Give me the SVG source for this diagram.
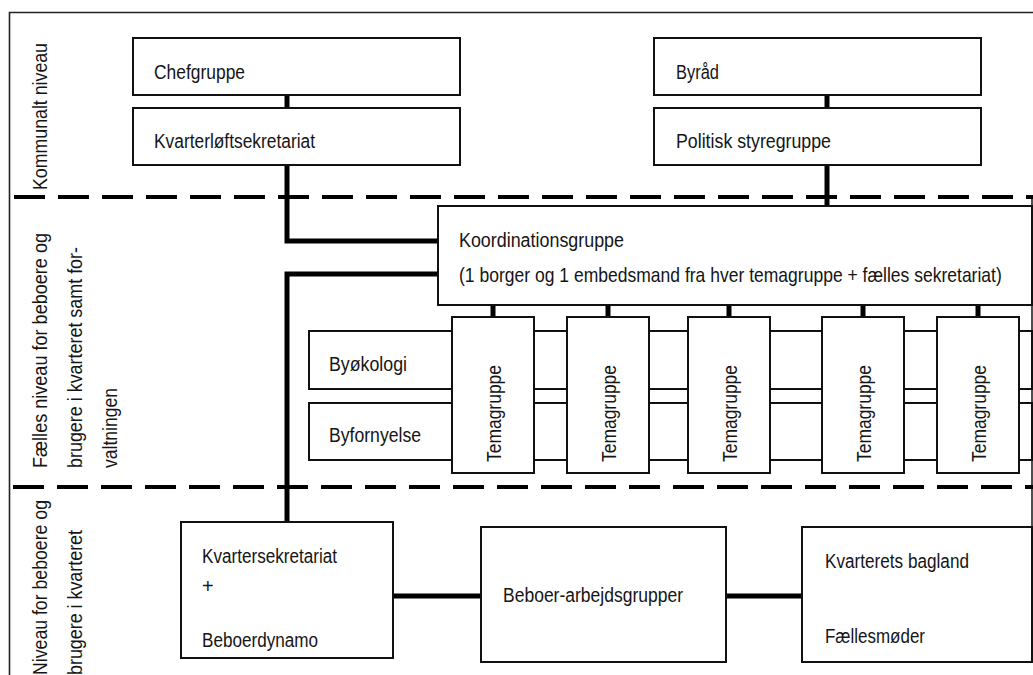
<svg xmlns="http://www.w3.org/2000/svg" width="1033" height="675" viewBox="0 0 1033 675">
  <style>
    .box { fill: #fff; stroke: #111; stroke-width: 2; }
    .frame { fill: none; stroke: #222; stroke-width: 1.6; }
    .conn { fill: none; stroke: #000; stroke-width: 5; }
    .level { fill: none; stroke: #000; stroke-width: 4; stroke-dasharray: 31 13; }
    text { font-family: "Liberation Sans Narrow", "Liberation Sans", Arial, sans-serif; font-size: 20px; fill: #151515; }
  </style>
  <rect width="1033" height="675" fill="#fff"/>

  <!-- outer frame -->
  <g id="frame">
    <path class="frame" d="M9.5 675 V12.5 H1033"/>
    <path class="frame" d="M1032 197 V662" stroke="#555"/>
  </g>

  <!-- level dividers -->
  <g id="levels">
    <line class="level" x1="14" y1="197" x2="1033" y2="197"/>
    <line class="level" x1="13" y1="487" x2="1033" y2="487"/>
  </g>

  <!-- level labels -->
  <g id="level-labels">
    <text transform="translate(47 190) rotate(-90)" textLength="147" lengthAdjust="spacingAndGlyphs">Kommunalt niveau</text>
    <text transform="translate(47 468) rotate(-90)" textLength="235" lengthAdjust="spacingAndGlyphs">Fælles niveau for beboere og</text>
    <text transform="translate(82 468) rotate(-90)" textLength="221" lengthAdjust="spacingAndGlyphs">brugere i kvarteret samt for-</text>
    <text transform="translate(117 468) rotate(-90)" textLength="80" lengthAdjust="spacingAndGlyphs">valtningen</text>
    <text transform="translate(47 675) rotate(-90)" textLength="175" lengthAdjust="spacingAndGlyphs">Niveau for beboere og</text>
    <text transform="translate(82 675) rotate(-90)" textLength="145" lengthAdjust="spacingAndGlyphs">brugere i kvarteret</text>
  </g>

  <!-- connectors -->
  <g id="connectors">
    <line class="conn" x1="287" y1="95" x2="287" y2="108"/>
    <line class="conn" x1="827" y1="95" x2="827" y2="108"/>
    <path class="conn" d="M287 165 V241 H438"/>
    <line class="conn" x1="827" y1="165" x2="827" y2="206"/>
    <path class="conn" d="M438 274 H287 V522"/>
    <line class="conn" x1="493" y1="305" x2="493" y2="317"/>
    <line class="conn" x1="608" y1="305" x2="608" y2="317"/>
    <line class="conn" x1="729" y1="305" x2="729" y2="317"/>
    <line class="conn" x1="863" y1="305" x2="863" y2="317"/>
    <line class="conn" x1="978" y1="305" x2="978" y2="317"/>
    <line class="conn" x1="393" y1="596" x2="481" y2="596"/>
    <line class="conn" x1="726" y1="596" x2="802" y2="596"/>
  </g>

  <!-- municipal level -->
  <g id="chefgruppe">
    <rect class="box" x="133" y="38" width="327" height="57"/>
    <text x="154" y="79" textLength="91" lengthAdjust="spacingAndGlyphs">Chefgruppe</text>
  </g>
  <g id="kvarterloeftsekretariat">
    <rect class="box" x="133" y="108" width="327" height="57"/>
    <text x="154" y="148" textLength="161" lengthAdjust="spacingAndGlyphs">Kvarterløftsekretariat</text>
  </g>
  <g id="byraad">
    <rect class="box" x="654" y="38" width="327" height="57"/>
    <text x="676" y="79" textLength="43" lengthAdjust="spacingAndGlyphs">Byråd</text>
  </g>
  <g id="politisk-styregruppe">
    <rect class="box" x="654" y="108" width="327" height="57"/>
    <text x="676" y="148" textLength="155" lengthAdjust="spacingAndGlyphs">Politisk styregruppe</text>
  </g>

  <!-- joint level -->
  <g id="koordinationsgruppe">
    <rect class="box" x="438" y="206" width="594" height="99"/>
    <text x="459" y="247" textLength="165" lengthAdjust="spacingAndGlyphs">Koordinationsgruppe</text>
    <text transform="translate(459 282) scale(0.876 1)">(1 borger og 1 embedsmand fra hver temagruppe + fælles sekretariat)</text>
  </g>
  <g id="byoekologi">
    <rect class="box" x="309" y="331" width="723" height="58"/>
    <text x="329" y="371" textLength="78" lengthAdjust="spacingAndGlyphs">Byøkologi</text>
  </g>
  <g id="byfornyelse">
    <rect class="box" x="309" y="403" width="723" height="57"/>
    <text x="329" y="442" textLength="92" lengthAdjust="spacingAndGlyphs">Byfornyelse</text>
  </g>
  <g id="temagruppe-1">
    <rect class="box" x="452" y="317" width="82" height="156"/>
    <text transform="translate(501 462) rotate(-90)" textLength="97" lengthAdjust="spacingAndGlyphs">Temagruppe</text>
  </g>
  <g id="temagruppe-2">
    <rect class="box" x="567" y="317" width="82" height="156"/>
    <text transform="translate(616 462) rotate(-90)" textLength="97" lengthAdjust="spacingAndGlyphs">Temagruppe</text>
  </g>
  <g id="temagruppe-3">
    <rect class="box" x="688" y="317" width="82" height="156"/>
    <text transform="translate(737 462) rotate(-90)" textLength="97" lengthAdjust="spacingAndGlyphs">Temagruppe</text>
  </g>
  <g id="temagruppe-4">
    <rect class="box" x="822" y="317" width="82" height="156"/>
    <text transform="translate(871 462) rotate(-90)" textLength="97" lengthAdjust="spacingAndGlyphs">Temagruppe</text>
  </g>
  <g id="temagruppe-5">
    <rect class="box" x="937" y="317" width="82" height="156"/>
    <text transform="translate(986 462) rotate(-90)" textLength="97" lengthAdjust="spacingAndGlyphs">Temagruppe</text>
  </g>

  <!-- neighbourhood level -->
  <g id="kvartersekretariat">
    <rect class="box" x="181" y="522" width="212" height="136"/>
    <text x="202" y="563" textLength="135" lengthAdjust="spacingAndGlyphs">Kvartersekretariat</text>
    <text x="202" y="593">+</text>
    <text x="202" y="647" textLength="116" lengthAdjust="spacingAndGlyphs">Beboerdynamo</text>
  </g>
  <g id="beboer-arbejdsgrupper">
    <rect class="box" x="481" y="527" width="245" height="135"/>
    <text x="503" y="602" textLength="180" lengthAdjust="spacingAndGlyphs">Beboer-arbejdsgrupper</text>
  </g>
  <g id="kvarterets-bagland">
    <rect class="box" x="802" y="527" width="230" height="135"/>
    <text x="825" y="568" textLength="144" lengthAdjust="spacingAndGlyphs">Kvarterets bagland</text>
    <text x="825" y="643" textLength="100" lengthAdjust="spacingAndGlyphs">Fællesmøder</text>
  </g>
</svg>
